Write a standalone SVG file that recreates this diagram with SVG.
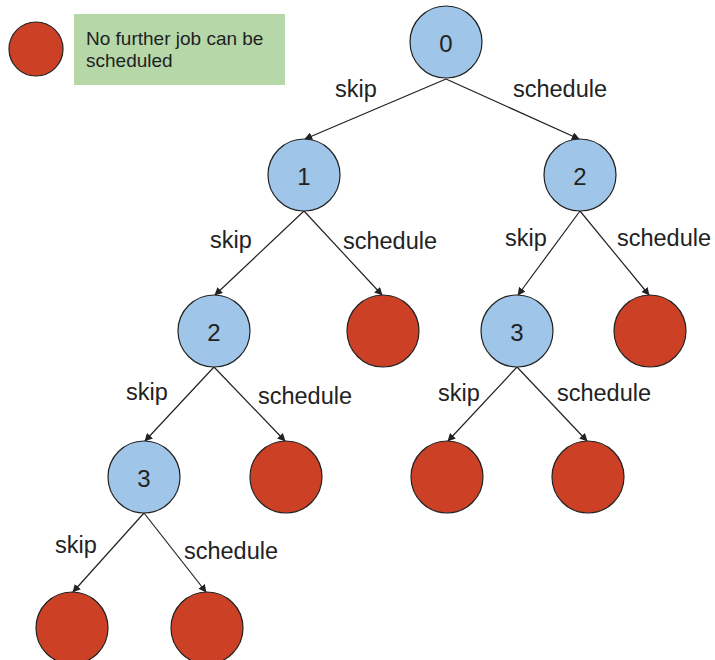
<svg xmlns="http://www.w3.org/2000/svg" width="715" height="660" viewBox="0 0 715 660">
<style>
.b{fill:#9fc5e8;stroke:#222;stroke-width:1.2}
.r{fill:#cc4125;stroke:#222;stroke-width:1.2}
.n{font-family:"Liberation Sans",Arial,sans-serif;font-size:24px;fill:#222;text-anchor:middle}
.l{font-family:"Liberation Sans",Arial,sans-serif;font-size:23.5px;fill:#222;text-anchor:middle}
.e{stroke:#222;stroke-width:1.2;fill:none;marker-end:url(#a)}
</style>
<defs>
<marker id="a" viewBox="0 0 10 10" refX="9" refY="5" markerWidth="8" markerHeight="8" markerUnits="userSpaceOnUse" orient="auto">
<path d="M0,0 L10,5 L0,10 z" fill="#222"/>
</marker>
</defs>
<rect width="715" height="660" fill="#fff"/>
<g id="legend">
<circle class="r" cx="36" cy="49" r="27"/>
<rect x="74" y="14" width="211" height="71" fill="#b6d7a8"/>
<text x="86" y="45" font-family="'Liberation Sans',Arial,sans-serif" font-size="19" fill="#222">No further job can be</text>
<text x="86" y="67" font-family="'Liberation Sans',Arial,sans-serif" font-size="19" fill="#222">scheduled</text>
</g>
<g id="connectors">
<line class="e" x1="446" y1="79" x2="305" y2="139"/>
<line class="e" x1="446" y1="79" x2="579" y2="139"/>
<line class="e" x1="304" y1="211" x2="215" y2="295"/>
<line class="e" x1="304" y1="211" x2="382" y2="295"/>
<line class="e" x1="580" y1="211" x2="518" y2="295"/>
<line class="e" x1="580" y1="211" x2="649" y2="295"/>
<line class="e" x1="214" y1="367" x2="145" y2="441"/>
<line class="e" x1="214" y1="367" x2="285" y2="441"/>
<line class="e" x1="517" y1="367" x2="448" y2="441"/>
<line class="e" x1="517" y1="367" x2="587" y2="441"/>
<line class="e" x1="144" y1="513" x2="73" y2="592"/>
<line class="e" x1="144" y1="513" x2="206" y2="592"/>
</g>
<g id="labels">
<text class="l" x="356" y="97">skip</text>
<text class="l" x="560" y="97">schedule</text>
<text class="l" x="231" y="248">skip</text>
<text class="l" x="390" y="249">schedule</text>
<text class="l" x="526" y="246">skip</text>
<text class="l" x="664" y="246">schedule</text>
<text class="l" x="147" y="400">skip</text>
<text class="l" x="305" y="404">schedule</text>
<text class="l" x="459" y="401">skip</text>
<text class="l" x="604" y="401">schedule</text>
<text class="l" x="76" y="553">skip</text>
<text class="l" x="231" y="559">schedule</text>
</g>
<g id="n0"><circle class="b" cx="446" cy="42" r="36"/><text class="n" x="446" y="52">0</text></g>
<g id="n1"><circle class="b" cx="304" cy="175" r="36"/><text class="n" x="304" y="185">1</text></g>
<g id="n2"><circle class="b" cx="580" cy="175" r="36"/><text class="n" x="580" y="185">2</text></g>
<g id="n3"><circle class="b" cx="214" cy="331" r="36"/><text class="n" x="214" y="341">2</text></g>
<g id="n4"><circle class="r" cx="383" cy="331" r="36"/></g>
<g id="n5"><circle class="b" cx="517" cy="331" r="36"/><text class="n" x="517" y="341">3</text></g>
<g id="n6"><circle class="r" cx="650" cy="331" r="36"/></g>
<g id="n7"><circle class="b" cx="144" cy="477" r="36"/><text class="n" x="144" y="487">3</text></g>
<g id="n8"><circle class="r" cx="286" cy="477" r="36"/></g>
<g id="n9"><circle class="r" cx="447" cy="477" r="36"/></g>
<g id="n10"><circle class="r" cx="588" cy="477" r="36"/></g>
<g id="n11"><circle class="r" cx="72" cy="628" r="36"/></g>
<g id="n12"><circle class="r" cx="207" cy="628" r="36"/></g>
</svg>
